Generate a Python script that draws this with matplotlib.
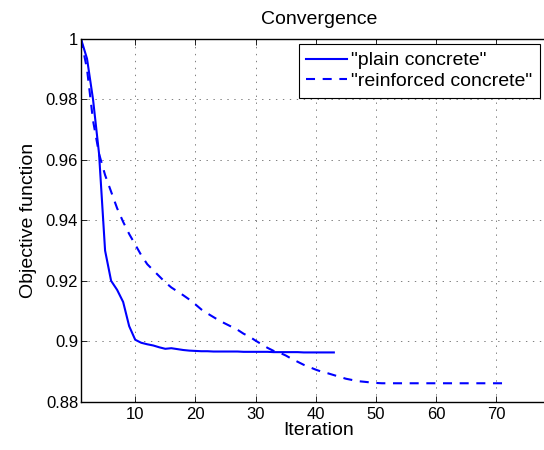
import matplotlib
matplotlib.use("Agg")
import matplotlib.pyplot as plt

plt.rcParams["font.family"] = ["Liberation Sans", "DejaVu Sans"]
plt.rcParams["lines.scale_dashes"] = False

# Objective function per iteration
plain = [1.0, 0.9935, 0.980, 0.962, 0.930, 0.920, 0.917, 0.913, 0.905, 0.9005,
         0.8995, 0.899, 0.8986, 0.8980, 0.8975, 0.8977, 0.8974, 0.8971, 0.8969, 0.8968,
         0.8967, 0.8967, 0.8966, 0.8966, 0.8966, 0.8966, 0.8966, 0.8965, 0.8965, 0.8965,
         0.8965, 0.8965, 0.8964, 0.8964, 0.8964, 0.8964, 0.8964, 0.8963, 0.8963, 0.8963,
         0.8963, 0.8963, 0.8963]
reinforced = [1.0, 0.990, 0.973, 0.962, 0.955, 0.9495, 0.944, 0.9395, 0.9355, 0.932,
              0.9285, 0.9255, 0.9235, 0.9215, 0.9195, 0.9178, 0.9165, 0.9152, 0.9138, 0.9122,
              0.9105, 0.9092, 0.9080, 0.9068, 0.9058, 0.9048, 0.9038, 0.9025, 0.9015, 0.9002,
              0.8990, 0.8978, 0.8968, 0.8962, 0.8953, 0.8942, 0.8932, 0.8922, 0.8914, 0.8906,
              0.8899, 0.8894, 0.8888, 0.8882, 0.8876, 0.8872, 0.8868, 0.8866, 0.8864, 0.8862,
              0.8861, 0.8861, 0.8861, 0.8861, 0.8861, 0.8861, 0.8861, 0.8861, 0.8861, 0.8861,
              0.8861, 0.8861, 0.8861, 0.8861, 0.8861, 0.8861, 0.8861, 0.8861, 0.8861, 0.8861,
              0.8861, 0.8861]
labels = ['"plain concrete"', '"reinforced concrete"']
x_ticks = [10, 20, 30, 40, 50, 60, 70]
y_ticks = [0.88, 0.9, 0.92, 0.94, 0.96, 0.98, 1.0]

fig = plt.figure(figsize=(5.44, 4.5), dpi=100)
# axes run a bit past the right edge, like the cropped original
ax = fig.add_axes([81 / 544, 1 - 401.7 / 450, (556.6 - 81) / 544, (401.7 - 39) / 450])

ax.plot(range(1, len(plain) + 1), plain, color="blue", lw=1.5, label=labels[0])
ax.plot(range(1, len(reinforced) + 1), reinforced, color="blue", lw=1.5,
        dashes=(6.5, 5.5), label=labels[1])

ax.set_xlim(1, 80)
ax.set_ylim(0.88, 1.0)
ax.set_xticks(x_ticks)
ax.set_yticks(y_ticks)
ax.set_yticklabels(["0.88", "0.9", "0.92", "0.94", "0.96", "0.98", "1"])
ax.tick_params(direction="in", top=True, right=True, labelsize=12, length=4, width=0.6)
ax.tick_params(axis="y", pad=2)
ax.grid(True, color="black", linestyle=(0, (1, 4)), linewidth=0.5, alpha=0.7)
for s in ax.spines.values():
    s.set_linewidth(1.0)

ax.set_xlabel("Iteration", fontsize=14, labelpad=0)
ax.set_ylabel("Objective function", fontsize=14, labelpad=6)
ax.set_title("Convergence", fontsize=14, pad=11)

leg = ax.legend(loc="upper right", bbox_to_anchor=(540 / 544, 1 - 44 / 450),
                bbox_transform=fig.transFigure, borderaxespad=0, fontsize=14,
                fancybox=False, framealpha=1, edgecolor="black", handlelength=2.1,
                handletextpad=0.2, borderpad=0.4, labelspacing=0.15)
leg.get_frame().set_linewidth(0.8)

fig.savefig("out.png", dpi=100)
